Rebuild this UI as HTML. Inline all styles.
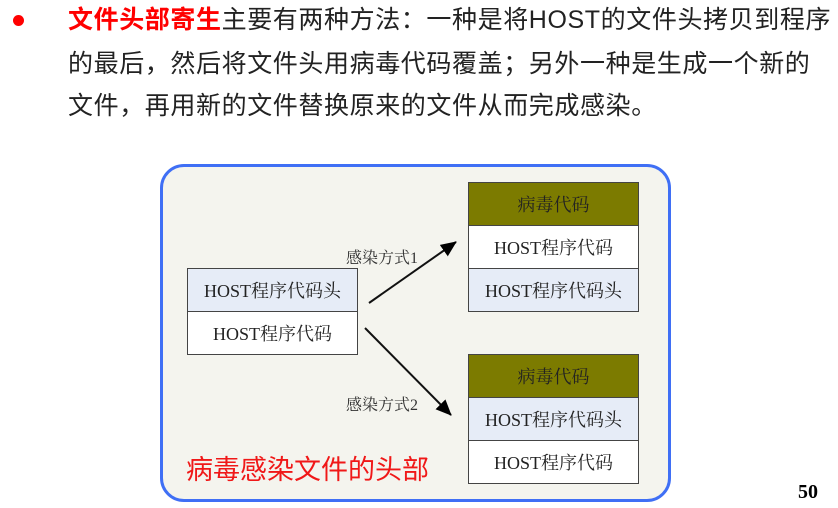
<!DOCTYPE html>
<html><head><meta charset="utf-8"><style>
body{margin:0;width:838px;height:508px;background:#fff;position:relative;overflow:hidden;font-family:"Liberation Sans","Noto Sans CJK SC",sans-serif}
.t{position:absolute;left:68px;font-size:25px;color:#222;white-space:nowrap;line-height:30px;letter-spacing:0.6px}
.dot{position:absolute;left:13px;top:15px;width:11px;height:11px;border-radius:50%;background:#f00}
.frame{position:absolute;left:160px;top:164px;width:505px;height:332px;border:3px solid #3f6ff5;border-radius:24px;background:#f4f4ee}
.b{position:absolute;box-sizing:border-box;border:1.5px solid #444;font-family:"Liberation Serif","Noto Serif CJK SC",serif;font-size:18px;color:#222;text-align:center;display:flex;flex-direction:column}
.b div{box-sizing:border-box;display:flex;align-items:center;justify-content:center;flex:1}
.v{background:#7c7b00}.h{background:#e6ecf7}.w{background:#fff}
.bt{border-top:1.5px solid #444}
.lab{position:absolute;font-family:"Liberation Serif","Noto Serif CJK SC",serif;font-size:16px;color:#333}
</style></head><body>
<div class="dot"></div>
<div class="t" style="top:5px"><span style="color:#f00;font-weight:bold">文件头部寄生</span>主要有两种方法：一种是将HOST的文件头拷贝到程序</div>
<div class="t" style="top:49px">的最后，然后将文件头用病毒代码覆盖；另外一种是生成一个新的</div>
<div class="t" style="top:91px">文件，再用新的文件替换原来的文件从而完成感染。</div>
<div class="frame"></div>
<div class="b" style="left:187px;top:268px;width:171px;height:87px"><div class="h">HOST程序代码头</div><div class="w bt">HOST程序代码</div></div>
<div class="b" style="left:468px;top:182px;width:171px;height:130px"><div class="v">病毒代码</div><div class="w bt">HOST程序代码</div><div class="h bt">HOST程序代码头</div></div>
<div class="b" style="left:468px;top:354px;width:171px;height:130px"><div class="v">病毒代码</div><div class="h bt">HOST程序代码头</div><div class="w bt">HOST程序代码</div></div>
<svg style="position:absolute;left:0;top:0" width="838" height="508">
<defs><marker id="a" markerWidth="16" markerHeight="14" refX="15" refY="7" orient="auto" markerUnits="userSpaceOnUse" viewBox="0 0 16 14"><path d="M0,0L16,7L0,14z" fill="#000"/></marker></defs>
<line x1="369" y1="303" x2="456" y2="242" stroke="#111" stroke-width="2" marker-end="url(#a)"/>
<line x1="365" y1="328" x2="451" y2="415" stroke="#111" stroke-width="2" marker-end="url(#a)"/>
</svg>
<div class="lab" style="left:346px;top:245px">感染方式1</div>
<div class="lab" style="left:346px;top:392px">感染方式2</div>
<div style="position:absolute;left:186px;top:448px;font-size:27px;color:#f01818;font-family:'Liberation Sans','Noto Sans CJK SC',sans-serif">病毒感染文件的头部</div>
<div style="position:absolute;left:798px;top:481px;font-size:20px;font-weight:bold;font-family:'Liberation Serif',serif">50</div>
</body></html>
